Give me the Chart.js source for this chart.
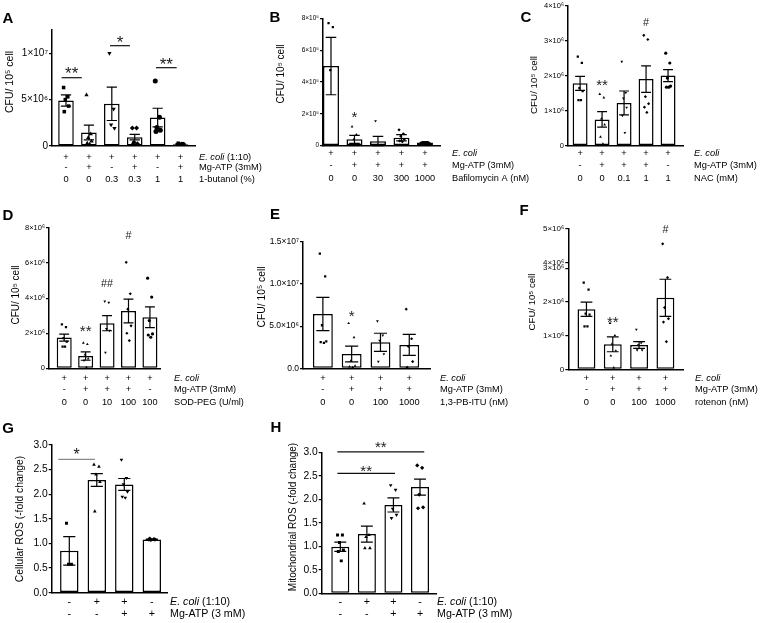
<!DOCTYPE html>
<html>
<head>
<meta charset="utf-8">
<script src="https://cdn.jsdelivr.net/npm/chart.js@4.4.0/dist/chart.umd.min.js"></script>
<style>
  body { margin: 0; background: #fff; }
  #wrap { position: relative; width: 766px; height: 623px; }
  #wrap canvas { position: absolute; left: 0; top: 0; }
</style>
</head>
<body>
<div id="wrap"></div>
<script>
// ---- A: 1-butanol ----
const aMean = [4.9e6, 1.45e6, 4.55e6, 0.95e6, 3.07e6, 0.2e6];
const aSem = [0.6e6, 0.8e6, 1.8e6, 0.3e6, 1.0e6, 0.05e6];
const aPts = [
  [6.3e6, 5.3e6, 5.0e6, 4.3e6, 3.7e6],
  [5.5e6, 1.3e6, 0.9e6, 0.5e6, 0.3e6, 0.2e6],
  [10.0e6, 4.0e6, 2.3e6, 1.9e6],
  [1.95e6, 1.95e6, 0.4e6, 0.25e6, 0.2e6],
  [7.0e6, 3.1e6, 2.0e6, 1.7e6, 1.55e6],
  [0.3e6, 0.25e6, 0.2e6, 0.2e6, 0.15e6, 0.1e6]
];
const aTicks = [0, 5e6, 1e7];
const aTickLabels = ["0", "5×10⁶", "1×10⁷"];
const aEcoli = ["+", "+", "+", "+", "+", "+"];
const aMg = ["-", "+", "-", "+", "-", "+"];
const aDose = ["0", "0", "0.3", "0.3", "1", "1"];
const aNames = [["E. coli", " (1:10)"], ["", "Mg-ATP (3mM)"], ["", "1-butanol (%)"]];

// ---- B: bafilomycin A ----
const bMean = [5.0e5, 0.4e5, 0.28e5, 0.5e5, 0.2e5];
const bSem = [1.8e5, 0.25e5, 0.3e5, 0.2e5, 0.01e5];
const bPts = [
  [7.7e5, 7.45e5, 4.75e5, 0],
  [1.2e5, 0.7e5, 0.4e5, 0.1e5, 0, 0],
  [1.55e5, 0, 0, 0, 0.05e5],
  [1.0e5, 0.75e5, 0.6e5, 0.4e5, 0.3e5, 0.25e5],
  [0.2e5, 0.2e5, 0.2e5, 0.2e5, 0.2e5, 0.2e5]
];
const bTicks = [0, 2e5, 4e5, 6e5, 8e5];
const bTickLabels = ["0", "2×10⁵", "4×10⁵", "6×10⁵", "8×10⁵"];
const bEcoli = ["+", "+", "+", "+", "+"];
const bMg = ["-", "+", "+", "+", "+"];
const bDose = ["0", "0", "30", "300", "1000"];
const bNames = [["E. coli", ""], ["", "Mg-ATP (3mM)"], ["", "Bafilomycin A (nM)"]];

// ---- C: NAC ----
const cMean = [1.78e6, 0.75e6, 1.22e6, 1.9e6, 2.0e6];
const cSem = [0.2e6, 0.22e6, 0.34e6, 0.38e6, 0.17e6];
const cPts = [
  [2.54e6, 2.36e6, 1.64e6, 1.56e6, 1.3e6, 1.3e6],
  [1.47e6, 1.37e6, 0.77e6, 0.6e6, 0.25e6, 0.05e6],
  [2.4e6, 1.51e6, 1.35e6, 1.09e6, 0.86e6, 0.37e6],
  [3.15e6, 3.03e6, 1.4e6, 1.2e6, 1.1e6, 0.95e6],
  [2.64e6, 2.36e6, 1.93e6, 1.7e6, 1.67e6, 1.67e6]
];
const cTicks = [0, 1e6, 2e6, 3e6, 4e6];
const cTickLabels = ["0", "1×10⁶", "2×10⁶", "3×10⁶", "4×10⁶"];
const cEcoli = ["+", "+", "+", "+", "+"];
const cMg = ["-", "+", "+", "+", "-"];
const cDose = ["0", "0", "0.1", "1", "1"];
const cNames = [["E. coli", ""], ["", "Mg-ATP (3mM)"], ["", "NAC (mM)"]];

// ---- D: SOD-PEG ----
const dMean = [1.75e6, 0.7e6, 2.57e6, 3.27e6, 2.91e6];
const dSem = [0.2e6, 0.24e6, 0.43e6, 0.68e6, 0.59e6];
const dPts = [
  [2.51e6, 2.35e6, 1.72e6, 1.52e6, 1.23e6, 1.23e6],
  [1.45e6, 1.37e6, 0.77e6, 0.55e6, 0.45e6, 0.05e6],
  [3.82e6, 3.75e6, 2.25e6, 2.15e6, 0.9e6],
  [6.04e6, 4.25e6, 3.37e6, 2.42e6, 2.0e6, 1.58e6],
  [5.14e6, 4.06e6, 2.72e6, 1.96e6, 1.9e6, 1.77e6]
];
const dTicks = [0, 2e6, 4e6, 6e6, 8e6];
const dTickLabels = ["0", "2×10⁶", "4×10⁶", "6×10⁶", "8×10⁶"];
const dEcoli = ["+", "+", "+", "+", "+"];
const dMg = ["-", "+", "+", "+", "-"];
const dDose = ["0", "0", "10", "100", "100"];
const dNames = [["E. coli", ""], ["", "Mg-ATP (3mM)"], ["", "SOD-PEG (U/ml)"]];

// ---- E: 1,3-PB-ITU ----
const eMean = [6.43e6, 1.69e6, 3.08e6, 2.77e6];
const eSem = [1.97e6, 0.93e6, 1.07e6, 1.24e6];
const ePts = [
  [13.6e6, 10.9e6, 5.1e6, 3.2e6, 3.1e6, 3.0e6],
  [5.33e6, 3.67e6, 0.87e6, 0.28e6, 0.2e6, 0.12e6],
  [5.6e6, 3.9e6, 3.3e6, 1.7e6, 0.8e6],
  [7.0e6, 3.5e6, 2.6e6, 0.8e6, 0.1e6]
];
const eTicks = [0, 5e6, 1e7, 1.5e7];
const eTickLabels = ["0.0", "5.0×10⁶", "1.0×10⁷", "1.5×10⁷"];
const eEcoli = ["+", "+", "+", "+"];
const eMg = ["-", "+", "+", "+"];
const eDose = ["0", "0", "100", "1000"];
const eNames = [["E. coli", ""], ["", "Mg-ATP (3mM)"], ["", "1,3-PB-ITU (nM)"]];

// ---- F: rotenon (broken axis 3×10⁶ -> 4×10⁶) ----
const fMean = [1.78e6, 0.74e6, 0.72e6, 2.12e6];
const fSem = [0.21e6, 0.22e6, 0.1e6, 0.55e6];
const fPts = [
  [2.57e6, 2.36e6, 1.65e6, 1.62e6, 1.27e6, 1.27e6],
  [1.37e6, 1.0e6, 0.75e6, 0.55e6, 0.4e6, 0.05e6],
  [1.18e6, 0.78e6, 0.72e6, 0.57e6, 0.57e6],
  [4.56e6, 2.72e6, 1.83e6, 1.5e6, 1.4e6, 0.82e6]
];
const fTicks = [0, 1e6, 2e6, 3e6, 4e6, 5e6];
const fTickLabels = ["0", "1×10⁶", "2×10⁶", "3×10⁶", "4×10⁶", "5×10⁶"];
const fEcoli = ["+", "+", "+", "+"];
const fMg = ["-", "+", "+", "+"];
const fDose = ["0", "0", "100", "1000"];
const fNames = [["E. coli", ""], ["", "Mg-ATP (3mM)"], ["", "rotenon (nM)"]];

// ---- G: cellular ROS ----
const gMean = [0.85, 2.29, 2.2, 1.08];
const gSem = [0.29, 0.13, 0.12, 0.01];
const gPts = [
  [1.41, 0.58, 0.58],
  [2.6, 2.56, 2.4, 2.25, 1.65],
  [2.7, 2.33, 2.2, 2.05, 1.95, 1.93],
  [1.08, 1.09, 1.07, 1.08, 1.1]
];
const rosTicks = [0, 0.5, 1, 1.5, 2, 2.5, 3];
const rosTickLabels = ["0.0", "0.5", "1.0", "1.5", "2.0", "2.5", "3.0"];
const gEcoli = ["-", "+", "+", "-"];
const gMg = ["-", "-", "+", "+"];
const rosNames = [["E. coli", " (1:10)"], ["", "Mg-ATP (3 mM)"]];

// ---- H: mitochondrial ROS ----
const hMean = [0.99, 1.26, 1.88, 2.26];
const hSem = [0.1, 0.17, 0.15, 0.17];
const hPts = [
  [1.24, 1.24, 1.08, 0.92, 0.89, 0.69],
  [1.91, 1.24, 1.2, 0.96, 0.96],
  [2.3, 2.2, 1.8, 1.67, 1.6],
  [2.72, 2.67, 2.1, 1.83, 1.81]
];
const hEcoli = ["-", "+", "+", "-"];
const hMg = ["-", "-", "+", "+"];

const FONT = "'Liberation Sans', Arial, Helvetica, sans-serif";
const W = 766, H = 623;
const jitter = [-0.17, 0.13, -0.05, 0.19, -0.12, 0.06];
const shapes = ["rect", "triangle", "triangle", "rectRot", "circle", "rect"];
const turns = [0, 0, 180, 0, 0, 0];
const CFU = "CFU/ 10⁵ cell";

function drawName(ctx, x, y, parts, size) {
  ctx.textAlign = "left";
  ctx.textBaseline = "middle";
  ctx.font = "italic " + size + "px " + FONT;
  ctx.fillText(parts[0], x, y);
  const w = parts[0] ? ctx.measureText(parts[0]).width : 0;
  ctx.font = size + "px " + FONT;
  ctx.fillText(parts[1], x + w, y);
}

function markText(ctx, t, x, cy, size) {
  // asterisks sit high in the em box, hashes sit low
  const star = t.indexOf("*") >= 0;
  const s = star ? size : size * 0.72;
  ctx.textAlign = "center";
  ctx.textBaseline = "alphabetic";
  ctx.font = s + "px " + FONT;
  ctx.fillText(t, x, cy + (star ? 0.6 : 0.36) * s);
}

function overlay(p) {
  const tf = p.tf || (v => v);
  return {
    id: "overlay",
    afterDatasetDraw(chart, args) {
      if (args.index !== 0) return;
      const ctx = chart.ctx, xs = chart.scales.x, ys = chart.scales.y;
      const unit = xs.getPixelForValue(1) - xs.getPixelForValue(0);
      const cap = unit * p.bw * 0.33;
      ctx.save();
      ctx.strokeStyle = "#000";
      ctx.lineWidth = 1.2;
      p.mean.forEach((m, i) => {
        const x = xs.getPixelForValue(i);
        const yHi = ys.getPixelForValue(tf(m + p.sem[i]));
        const yLo = ys.getPixelForValue(tf(Math.max(0, m - p.sem[i])));
        ctx.beginPath();
        ctx.moveTo(x, yLo); ctx.lineTo(x, yHi);
        ctx.moveTo(x - cap, yHi); ctx.lineTo(x + cap, yHi);
        ctx.moveTo(x - cap, yLo); ctx.lineTo(x + cap, yLo);
        ctx.stroke();
      });
      ctx.restore();
    },
    afterDraw(chart) {
      const ctx = chart.ctx, xs = chart.scales.x, ys = chart.scales.y;
      ctx.save();
      ctx.fillStyle = "#000";
      // panel letter
      ctx.font = "bold 15px " + FONT;
      ctx.textAlign = "center";
      ctx.textBaseline = "middle";
      ctx.fillText(p.letter, p.letterAt[0], p.letterAt[1]);
      // y title
      ctx.save();
      ctx.translate(p.titleAt[0], p.titleAt[1]);
      ctx.rotate(-Math.PI / 2);
      ctx.font = p.titleSize + "px " + FONT;
      ctx.fillText(p.title, 0, 0);
      ctx.restore();
      // condition table
      p.rows.forEach((row, r) => {
        ctx.font = p.tableSize + "px " + FONT;
        ctx.textAlign = "center";
        ctx.textBaseline = "middle";
        row.forEach((s, i) => ctx.fillText(s, xs.getPixelForValue(i), p.rowY[r]));
        drawName(ctx, p.nameX, p.rowY[r], p.names[r], p.tableSize);
      });
      // significance
      (p.lines || []).forEach(l => {
        const y = ys.getPixelForValue(tf(l.y));
        const x1 = xs.getPixelForValue(l.a), x2 = xs.getPixelForValue(l.b);
        ctx.strokeStyle = p.lineColor || "#111";
        ctx.lineWidth = 1.2;
        ctx.beginPath(); ctx.moveTo(x1, y); ctx.lineTo(x2, y); ctx.stroke();
        ctx.fillStyle = "#1a1a1a";
        markText(ctx, l.t, (x1 + x2) / 2, y - l.dy, p.starSize);
      });
      ctx.fillStyle = "#222";
      (p.marks || []).forEach(m => {
        markText(ctx, m.t, xs.getPixelForValue(m.i), ys.getPixelForValue(tf(m.y)), p.starSize);
      });
      ctx.restore();
    }
  };
}

function panel(p) {
  const cv = document.createElement("canvas");
  cv.width = W; cv.height = H;
  document.getElementById("wrap").appendChild(cv);
  const tf = p.tf || (v => v);
  const bars = p.mean.map((v, i) => ({ x: i, y: tf(v) }));
  const dots = [];
  p.pts.forEach((grp, i) => grp.forEach((v, j) => {
    dots.push({ x: i + jitter[j % jitter.length] * p.bw * 0.9, y: tf(v), g: i });
  }));
  new Chart(cv, {
    type: "bar",
    data: {
      datasets: [
        {
          type: "bar", data: bars, order: 2,
          backgroundColor: "#fff", borderColor: "#000", borderWidth: 1.5,
          borderSkipped: false, barPercentage: p.bw, categoryPercentage: 1
        },
        {
          type: "scatter", data: dots, order: 1,
          pointStyle: c => shapes[c.raw.g % shapes.length],
          rotation: c => turns[c.raw.g % turns.length],
          pointRadius: p.r, backgroundColor: "#000", borderColor: "#000", borderWidth: 0
        }
      ]
    },
    options: {
      responsive: false, animation: false, devicePixelRatio: 1,
      layout: { padding: { left: p.ax - 60, top: p.top, right: W - p.xe, bottom: H - p.zero } },
      plugins: { legend: { display: false }, tooltip: { enabled: false } },
      scales: {
        x: {
          type: "linear", min: p.xmin, max: p.xmax, offset: false,
          ticks: { display: false }, grid: { display: false, offset: false },
          border: { color: "#000", width: 1.5 },
          afterFit: s => { s.height = 0; }
        },
        y: {
          min: 0, max: tf(p.max),
          afterBuildTicks: s => { s.ticks = p.ticks.map(v => ({ value: tf(v) })); },
          ticks: {
            autoSkip: false, color: "#000", padding: 1,
            font: { family: FONT, size: p.tickSize },
            callback: (v, i) => p.tickLabels[i]
          },
          grid: { drawOnChartArea: false, tickLength: 3, color: "#000", lineWidth: 1.2 },
          border: { color: "#000", width: 1.5 },
          afterFit: s => { s.width = 60; }
        }
      }
    },
    plugins: [overlay(p)]
  });
}

// F axis break: 4×10⁶ sits just above 3×10⁶
const fBreak = v => (v <= 3e6 ? v : v - 0.84e6);

panel({
  letter: "A", letterAt: [8, 19], title: CFU, titleAt: [10, 82], titleSize: 10.5,
  mean: aMean, sem: aSem, pts: aPts, ticks: aTicks, tickLabels: aTickLabels, max: 1.25e7,
  ax: 52, top: 30, zero: 146, xe: 195, xmin: -0.61, xmax: 5.63, bw: 0.68, r: 2.5, tickSize: 10,
  rows: [aEcoli, aMg, aDose], names: aNames, rowY: [157, 167, 179], nameX: 199, tableSize: 9.3,
  starSize: 17,
  lines: [
    { a: -0.19, b: 0.69, y: 7.36e6, dy: 9, t: "**" },
    { a: 1.92, b: 2.79, y: 1.081e7, dy: 7.5, t: "*" },
    { a: 3.93, b: 4.83, y: 8.44e6, dy: 8, t: "**" }
  ]
});

panel({
  letter: "B", letterAt: [275, 18], title: CFU, titleAt: [281, 74], titleSize: 10,
  mean: bMean, sem: bSem, pts: bPts, ticks: bTicks, tickLabels: bTickLabels, max: 8e5,
  ax: 323, top: 18.3, zero: 145.7, xe: 440, xmin: -0.34, xmax: 4.64, bw: 0.68, r: 1.6, tickSize: 6.5,
  rows: [bEcoli, bMg, bDose], names: bNames, rowY: [153, 165, 178], nameX: 452, tableSize: 9.2,
  starSize: 15,
  marks: [{ i: 1, y: 2.03e5, t: "*" }]
});

panel({
  letter: "C", letterAt: [526, 18], title: CFU, titleAt: [534, 85], titleSize: 9.8,
  mean: cMean, sem: cSem, pts: cPts, ticks: cTicks, tickLabels: cTickLabels, max: 4e6,
  ax: 568, top: 3, zero: 145.7, xe: 683, xmin: -0.55, xmax: 4.68, bw: 0.68, r: 1.6, tickSize: 7.5,
  rows: [cEcoli, cMg, cDose], names: cNames, rowY: [153, 165, 178], nameX: 694, tableSize: 9.3,
  starSize: 15,
  marks: [{ i: 1, y: 1.84e6, t: "**" }, { i: 3, y: 3.52e6, t: "#" }]
});

panel({
  letter: "D", letterAt: [8, 216], title: CFU, titleAt: [16, 295], titleSize: 10,
  mean: dMean, sem: dSem, pts: dPts, ticks: dTicks, tickLabels: dTickLabels, max: 8e6,
  ax: 49, top: 228, zero: 368.3, xe: 160, xmin: -0.71, xmax: 4.47, bw: 0.7, r: 1.6, tickSize: 7.5,
  rows: [dEcoli, dMg, dDose], names: dNames, rowY: [378, 389, 402], nameX: 174, tableSize: 9.2,
  starSize: 15,
  marks: [{ i: 1, y: 2.34e6, t: "**" }, { i: 2, y: 4.85e6, t: "##" }, { i: 3, y: 7.6e6, t: "#" }]
});

panel({
  letter: "E", letterAt: [275, 215], title: CFU, titleAt: [262, 297], titleSize: 10.3,
  mean: eMean, sem: eSem, pts: ePts, ticks: eTicks, tickLabels: eTickLabels, max: 1.5e7,
  ax: 303, top: 241.7, zero: 368.3, xe: 430, xmin: -0.69, xmax: 3.72, bw: 0.69, r: 1.6, tickSize: 8.5,
  rows: [eEcoli, eMg, eDose], names: eNames, rowY: [378, 389, 402], nameX: 440, tableSize: 9.3,
  starSize: 15,
  marks: [{ i: 1, y: 6.64e6, t: "*" }]
});

panel({
  letter: "F", letterAt: [524, 211], title: CFU, titleAt: [532, 302], titleSize: 9.6,
  mean: fMean, sem: fSem, pts: fPts, ticks: fTicks, tickLabels: fTickLabels, max: 5e6, tf: fBreak,
  ax: 568.3, top: 229, zero: 369.3, xe: 683.3, xmin: -0.69, xmax: 3.68, bw: 0.68, r: 1.6, tickSize: 8,
  rows: [fEcoli, fMg, fDose], names: fNames, rowY: [378, 389, 402], nameX: 695, tableSize: 9.3,
  starSize: 15,
  marks: [{ i: 1, y: 1.51e6, t: "**" }, { i: 3, y: 4.99e6, t: "#" }]
});

panel({
  letter: "G", letterAt: [8, 429], title: "Cellular ROS (-fold change)", titleAt: [20, 519], titleSize: 10.3,
  mean: gMean, sem: gSem, pts: gPts, ticks: rosTicks, tickLabels: rosTickLabels, max: 3,
  ax: 51.7, top: 445, zero: 592.7, xe: 168, xmin: -0.64, xmax: 3.59, bw: 0.67, r: 2.1, tickSize: 10.3,
  rows: [gEcoli, gMg], names: rosNames, rowY: [602, 614], nameX: 170, tableSize: 10.7,
  starSize: 16, lineColor: "#8a8a8a",
  lines: [{ a: -0.4, b: 0.93, y: 2.71, dy: 9, t: "*" }]
});

panel({
  letter: "H", letterAt: [276, 428], title: "Mitochondrial ROS (-fold change)", titleAt: [293, 517], titleSize: 10,
  mean: hMean, sem: hSem, pts: hPts, ticks: rosTicks, tickLabels: rosTickLabels, max: 3,
  ax: 321.7, top: 452.3, zero: 593.3, xe: 437, xmin: -0.7, xmax: 3.64, bw: 0.68, r: 2.1, tickSize: 10.3,
  rows: [hEcoli, hMg], names: rosNames, rowY: [602, 614], nameX: 437, tableSize: 10.7,
  starSize: 15, lineColor: "#111",
  lines: [
    { a: -0.11, b: 3.16, y: 3.01, dy: 8.4, t: "**" },
    { a: -0.11, b: 2.06, y: 2.55, dy: 6.6, t: "**" }
  ]
});
</script>
</body>
</html>
